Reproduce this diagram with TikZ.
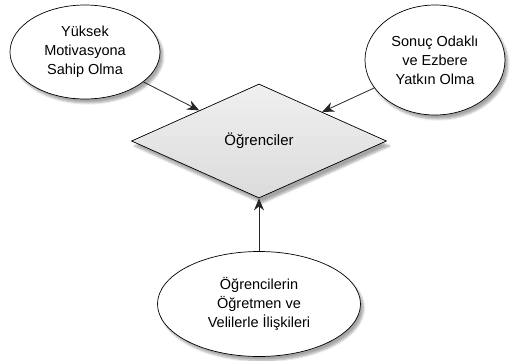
\documentclass[tikz,border=0pt]{standalone}
\usepackage{fontspec}
\setmainfont{Liberation Sans}
\usetikzlibrary{shapes.geometric,arrows.meta,shadows.blur}
\tikzset{
  bubble/.style={ellipse, draw=black, line width=0.7pt, fill=white, inner sep=0pt,
    align=center, font=\fontsize{14.5}{19}\selectfont,
    blur shadow={shadow xshift=3pt, shadow yshift=-4pt, shadow opacity=35, shadow blur steps=6}},
  centre/.style={diamond, draw=black, line width=0.7pt, inner sep=0pt,
    top color=gray!12, bottom color=gray!28, align=center,
    font=\fontsize{15}{18}\selectfont,
    blur shadow={shadow xshift=3pt, shadow yshift=-5pt, shadow opacity=35, shadow blur steps=6}},
  link/.style={draw=black!85, line width=0.8pt, -{Stealth[length=12pt,width=10pt]}}
}
\begin{document}
\begin{tikzpicture}[x=1pt,y=-1pt]
\useasboundingbox (0,0) rectangle (517,360);
\node[centre, minimum width=255pt, minimum height=114pt] (d) at (259,141) {Öğrenciler};
\node[bubble, minimum width=150pt, minimum height=94pt] (e1) at (85,52) {Yüksek\\Motivasyona\\Sahip Olma};
\node[bubble, minimum width=140pt, minimum height=110pt] (e2) at (435,60) {Sonuç Odaklı\\ve Ezbere\\Yatkın Olma};
\node[bubble, minimum width=203pt, minimum height=105pt] (e3) at (259,304) {Öğrencilerin\\Öğretmen ve\\Velilerle İlişkileri};
\draw[link] (e1) -- (d);
\draw[link] (e2) -- (d);
\draw[link] (e3) -- (d);
\end{tikzpicture}
\end{document}
